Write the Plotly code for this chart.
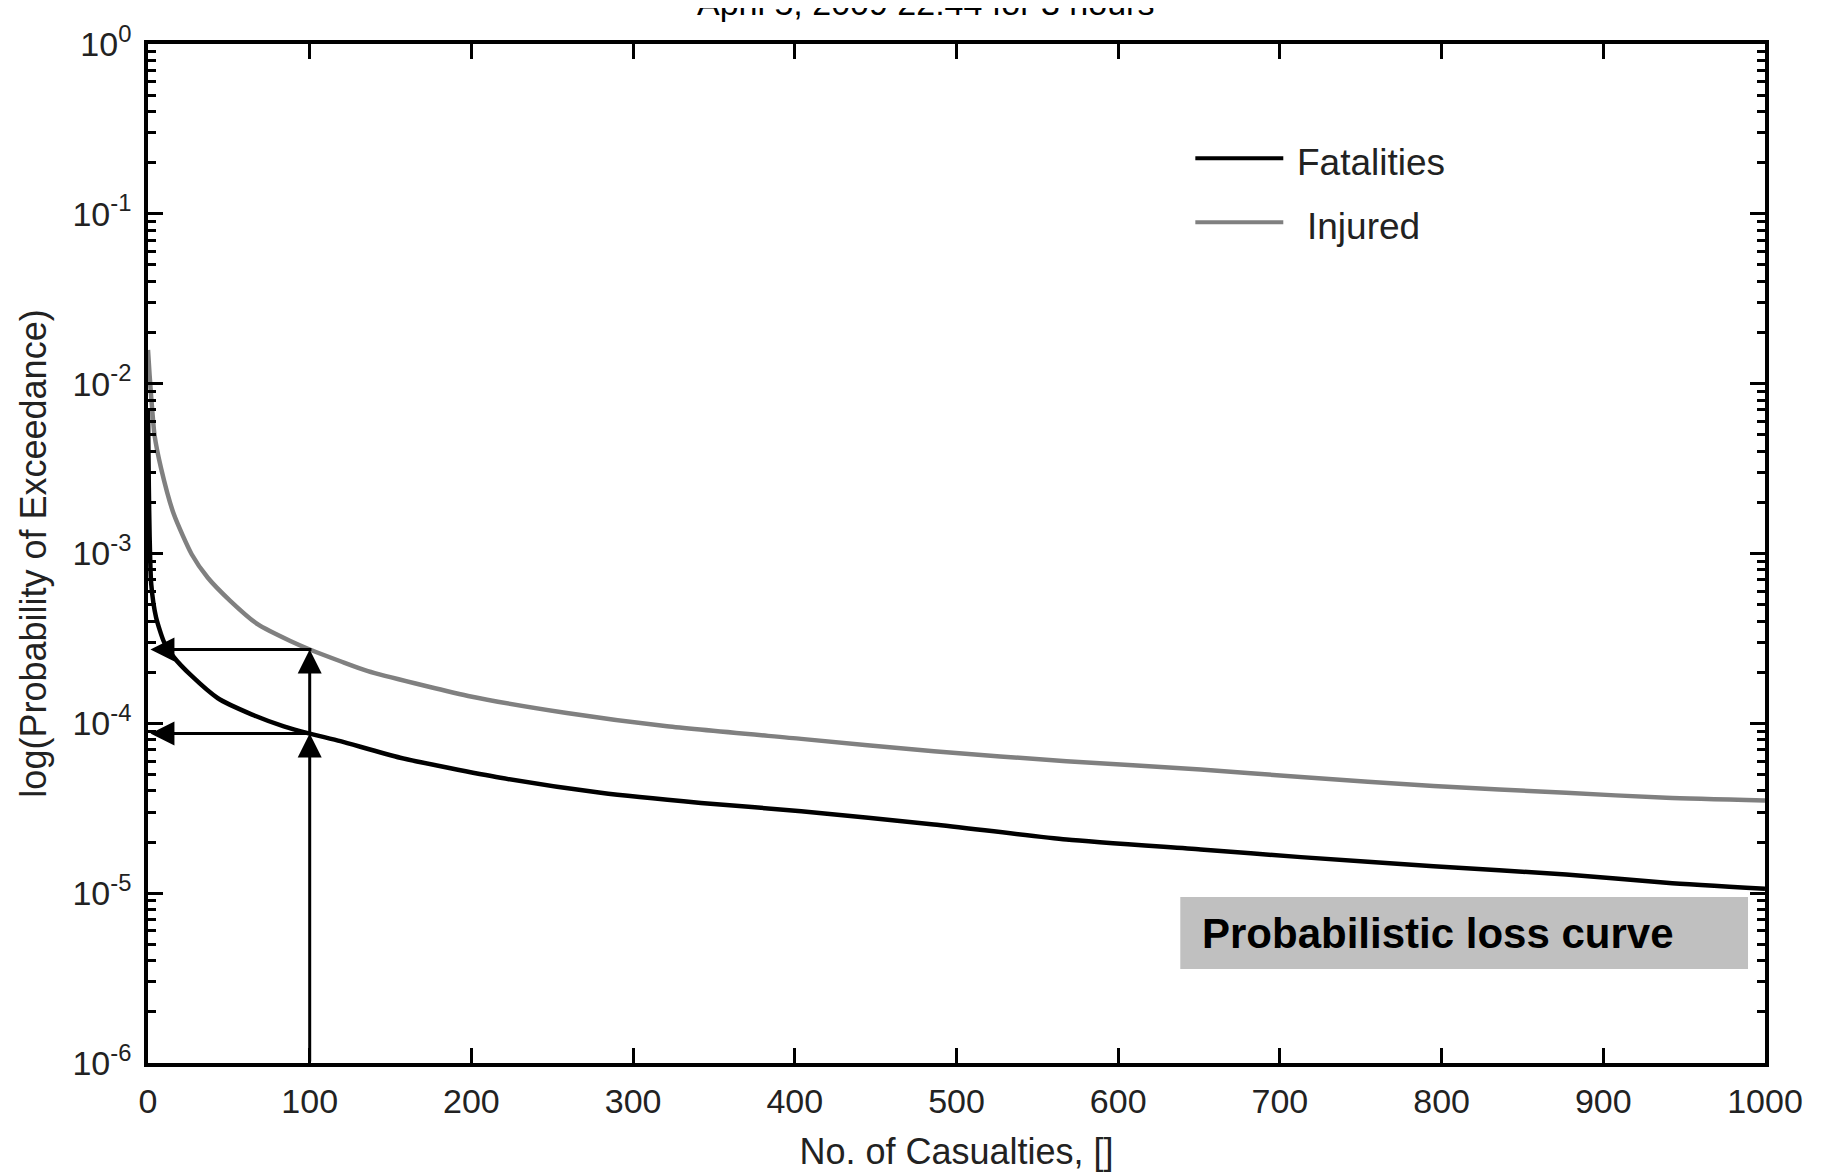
import plotly.graph_objects as go
import math

# ---------------- data ----------------
fatalities_x = [0, 0.5, 1, 2, 5, 10, 16, 27, 43, 64, 84, 100, 119, 156, 218, 280,
                342, 404, 486, 568, 651, 713, 795, 877, 939, 1000]
fatalities_p = [7.2e-3, 2.5e-3, 1.26e-3, 6.6e-4, 4.2e-4, 3.0e-4, 2.45e-4, 1.9e-4,
                1.41e-4, 1.13e-4, 9.6e-5, 8.7e-5, 7.85e-5, 6.27e-5, 4.78e-5, 3.9e-5,
                3.4e-5, 3.04e-5, 2.54e-5, 2.07e-5, 1.81e-5, 1.63e-5, 1.44e-5, 1.29e-5,
                1.15e-5, 1.06e-5]

injured_x = [0, 1, 2, 3, 4, 8, 16, 27, 37, 51, 68, 88, 100, 119, 136, 198, 259, 321,
             404, 486, 568, 651, 713, 795, 877, 939, 1000]
injured_p = [1.58e-2, 1.12e-2, 8.3e-3, 6.3e-3, 5.0e-3, 3.2e-3, 1.7e-3, 9.9e-4, 7.2e-4,
             5.25e-4, 3.82e-4, 3.05e-4, 2.72e-4, 2.32e-4, 2.03e-4, 1.45e-4, 1.15e-4,
             9.6e-5, 8.1e-5, 6.85e-5, 5.98e-5, 5.35e-5, 4.83e-5, 4.27e-5, 3.9e-5,
             3.64e-5, 3.51e-5]

series_names = ["Fatalities", "Injured"]
x_tick_vals = [0, 100, 200, 300, 400, 500, 600, 700, 800, 900, 1000]
y_tick_exponents = [-6, -5, -4, -3, -2, -1, 0]
reference_casualties = 100
title_text = "April 5, 2009 22:44 for 3 hours"
x_title = "No. of Casualties, []"
y_title = "log(Probability of Exceedance)"
box_text = "Probabilistic loss curve"

# ---------------- styling ----------------
BLACK = "#000000"
GREY = "#808080"
TEXT = "#222222"
FONT = "Liberation Sans, Arial, Helvetica, sans-serif"

fig = go.Figure()
fig.add_trace(go.Scatter(x=fatalities_x, y=fatalities_p, mode="lines", name=series_names[0],
                         line=dict(color=BLACK, width=4.5, shape="spline", smoothing=0.6),
                         showlegend=False))
fig.add_trace(go.Scatter(x=injured_x, y=injured_p, mode="lines", name=series_names[1],
                         line=dict(color=GREY, width=4.5, shape="spline", smoothing=0.6),
                         showlegend=False))

y_tick_vals = [10.0 ** e for e in y_tick_exponents]
y_tick_text = ["10<sup>%d</sup>" % e for e in y_tick_exponents]
minor_vals = [m * 10.0 ** e for e in y_tick_exponents[:-1] for m in range(2, 10)]

# arrows reading values at the reference casualty count
fat_ref = fatalities_p[fatalities_x.index(reference_casualties)]
inj_ref = injured_p[injured_x.index(reference_casualties)]
lf, li, lb = math.log10(fat_ref), math.log10(inj_ref), float(y_tick_exponents[0])
arrow_style = dict(xref="x", yref="y", axref="x", ayref="y", showarrow=True,
                   arrowhead=2, arrowsize=1.6, arrowwidth=3, arrowcolor=BLACK,
                   standoff=0, startstandoff=0, text="")
annotations = [
    dict(x=reference_casualties, y=lf, ax=reference_casualties, ay=lb, **arrow_style),
    dict(x=reference_casualties, y=li, ax=reference_casualties, ay=lf, **arrow_style),
    dict(x=1.5, y=li, ax=reference_casualties + 2, ay=li, **arrow_style),
    dict(x=1.5, y=lf, ax=reference_casualties, ay=lf, **arrow_style),
]

# title (partially cut by the top edge as in the reference)
annotations.append(dict(xref="paper", yref="paper", x=0.481, y=1.0195, xanchor="center",
                        yanchor="bottom", showarrow=False, text=title_text,
                        font=dict(family=FONT, size=34, color=BLACK)))

# legend drawn by hand (long sample lines)
leg_x0, leg_x1 = 0.6477, 0.7021
leg_rows = [(0.8878, BLACK, 0.7095), (0.8250, GREY, 0.7157)]
shapes = []
for (ly, col, tx), name in zip(leg_rows, series_names):
    shapes.append(dict(type="line", xref="paper", yref="paper", x0=leg_x0, x1=leg_x1,
                       y0=ly, y1=ly, line=dict(color=col, width=4)))
    annotations.append(dict(xref="paper", yref="paper", x=tx, y=ly - 0.004, xanchor="left",
                            yanchor="middle", showarrow=False, text=name,
                            font=dict(family=FONT, size=37, color=TEXT)))

# grey label box
shapes.append(dict(type="rect", xref="paper", yref="paper", x0=0.6384, x1=0.9895,
                   y0=0.0922, y1=0.1629, fillcolor="#c0c0c0", line=dict(width=0),
                   layer="below"))
annotations.append(dict(xref="paper", yref="paper", x=0.6508, y=0.1275, xanchor="left",
                        yanchor="middle", showarrow=False, text="<b>%s</b>" % box_text,
                        font=dict(family=FONT, size=42, color=BLACK)))

axis_common = dict(showline=True, linecolor=BLACK, linewidth=3.5, mirror="ticks",
                   ticks="inside", ticklen=15, tickwidth=3, tickcolor=BLACK,
                   showgrid=False, zeroline=False, automargin=False,
                   tickfont=dict(family=FONT, size=34, color=TEXT))

fig.update_layout(
    width=1819, height=1164,
    margin=dict(l=140, r=62, t=36, b=109, autoexpand=False),
    paper_bgcolor="white", plot_bgcolor="white",
    xaxis=dict(range=[0, 1000], tickmode="array", tickvals=x_tick_vals,
               ticklabelstandoff=5,
               title=dict(text=x_title, standoff=22,
                          font=dict(family=FONT, size=36, color=TEXT)),
               **axis_common),
    yaxis=dict(type="log", range=[-6, 0], tickmode="array", tickvals=y_tick_vals,
               ticktext=y_tick_text, ticklabelstandoff=6,
               minor=dict(tickmode="array", tickvals=minor_vals, ticks="inside",
                          ticklen=8, tickwidth=3, tickcolor=BLACK, showgrid=False),
               title=dict(text=y_title, standoff=16,
                          font=dict(family=FONT, size=36, color=TEXT)),
               **axis_common),
    shapes=shapes,
    annotations=annotations,
)

fig.write_html("out.html")
